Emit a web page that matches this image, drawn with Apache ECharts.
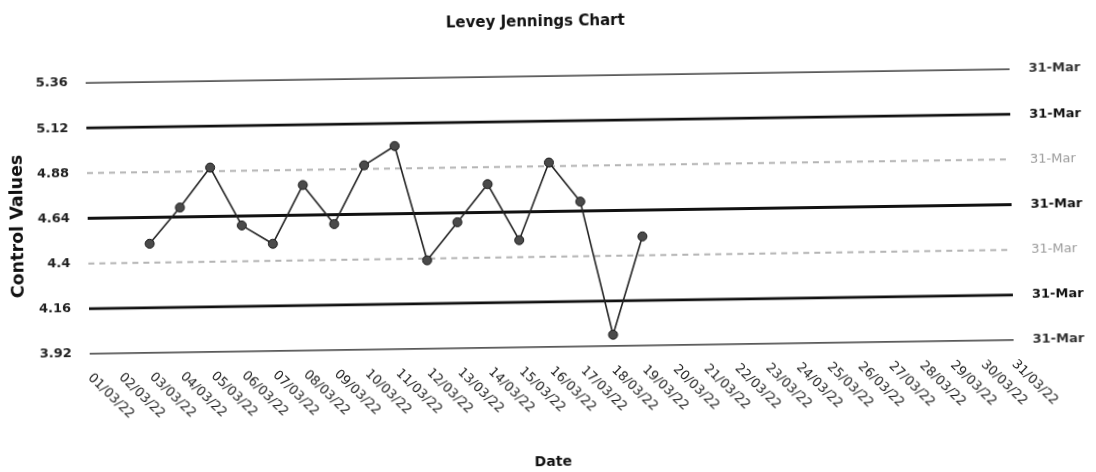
<!DOCTYPE html>
<html>
<head>
<meta charset="utf-8">
<script src="https://cdn.jsdelivr.net/npm/echarts@6/dist/echarts.min.js"></script>
<style>
  html, body { margin: 0; padding: 0; background: #fff; }
  /* the reference is a slightly tilted scan, so the whole chart is tilted a little */
  #chart { width: 1096px; height: 472px; transform: rotate(-0.85deg); }
</style>
</head>
<body>
<div id="chart"></div>
<script>
  const dates = ['01/03/22', '02/03/22', '03/03/22', '04/03/22', '05/03/22', '06/03/22', '07/03/22',
    '08/03/22', '09/03/22', '10/03/22', '11/03/22', '12/03/22', '13/03/22', '14/03/22', '15/03/22',
    '16/03/22', '17/03/22', '18/03/22', '19/03/22', '20/03/22', '21/03/22', '22/03/22', '23/03/22',
    '24/03/22', '25/03/22', '26/03/22', '27/03/22', '28/03/22', '29/03/22', '30/03/22', '31/03/22']

  // control values, first two days empty
  const controlValues = [null, null, 4.50, 4.69, 4.90, 4.59, 4.49, 4.80, 4.59, 4.90, 5.00,
    4.39, 4.59, 4.79, 4.49, 4.90, 4.69, 3.98, 4.50]

  // mean and SD limits
  const limitNames = ['+3SD', '+2SD', '+1SD', 'Mean', '-1SD', '-2SD', '-3SD']
  const limitValues = [5.36, 5.12, 4.88, 4.64, 4.4, 4.16, 3.92]
  const yTicks = [3.92, 4.16, 4.4, 4.64, 4.88, 5.12, 5.36]
  const endText = '31-Mar'

  const font = 'DejaVu Sans'

  const limitStyle = {
    '+3SD': { width: 1.6, color: '#222', type: 'solid', label: '#333', weight: 'bold' },
    '+2SD': { width: 2.6, color: '#111', type: 'solid', label: '#111', weight: 'bold' },
    '+1SD': { width: 2, color: '#b4b4b4', type: [6, 5], label: '#9a9a9a', weight: 'normal' },
    'Mean': { width: 3, color: '#111', type: 'solid', label: '#111', weight: 'bold' },
    '-1SD': { width: 2, color: '#b4b4b4', type: [6, 5], label: '#9a9a9a', weight: 'normal' },
    '-2SD': { width: 2.6, color: '#111', type: 'solid', label: '#111', weight: 'bold' },
    '-3SD': { width: 1.6, color: '#222', type: 'solid', label: '#333', weight: 'bold' }
  }

  const myChart = echarts.init(document.getElementById('chart'))

  const series = limitNames.map(function (name, i) {
    const s = limitStyle[name]
    return {
      name: name,
      type: 'line',
      data: dates.map(function () { return limitValues[i] }),
      symbol: 'none',
      silent: true,
      lineStyle: { width: s.width, color: s.color, type: s.type },
      endLabel: {
        show: true,
        formatter: endText,
        distance: 19,
        color: s.label,
        fontWeight: s.weight,
        fontSize: 13,
        fontFamily: font
      },
      z: 1
    }
  })

  series.push({
    name: 'Control',
    type: 'line',
    data: controlValues,
    symbol: 'circle',
    symbolSize: 9,
    itemStyle: { color: '#4a4a4a', borderColor: '#1a1a1a', borderWidth: 1 },
    lineStyle: { width: 1.6, color: '#222' },
    z: 5
  })

  const option = {
    backgroundColor: '#fff',
    animation: false,
    title: {
      text: 'Levey Jennings Chart',
      left: 444,
      top: 10,
      textStyle: { fontSize: 15, fontWeight: 'bold', color: '#111', fontFamily: font }
    },
    grid: { left: 88, right: 84, top: 76, bottom: 125, outerBoundsMode: 'none' },
    xAxis: {
      type: 'category',
      data: dates,
      boundaryGap: false,
      name: 'Date',
      nameLocation: 'middle',
      nameGap: 108,
      nameTextStyle: { fontSize: 14, fontWeight: 'bold', color: '#111', fontFamily: font },
      axisLine: { show: false },
      axisTick: { show: false },
      axisLabel: {
        interval: 0,
        rotate: -45,
        margin: 22,
        fontSize: 13,
        color: '#222',
        fontFamily: font
      }
    },
    yAxis: {
      type: 'value',
      min: 3.92,
      max: 5.36,
      name: 'Control Values',
      nameLocation: 'middle',
      nameGap: 58,
      nameTextStyle: { fontSize: 17.5, fontWeight: 'bold', color: '#111', fontFamily: font, padding: [0, 14, 0, 0] },
      axisLine: { show: false },
      axisTick: { show: false },
      splitLine: { show: false },
      axisLabel: {
        customValues: yTicks,
        margin: 18,
        fontSize: 13,
        fontWeight: 'bold',
        color: '#222',
        fontFamily: font
      }
    },
    series: series
  }

  myChart.setOption(option)
</script>
</body>
</html>
